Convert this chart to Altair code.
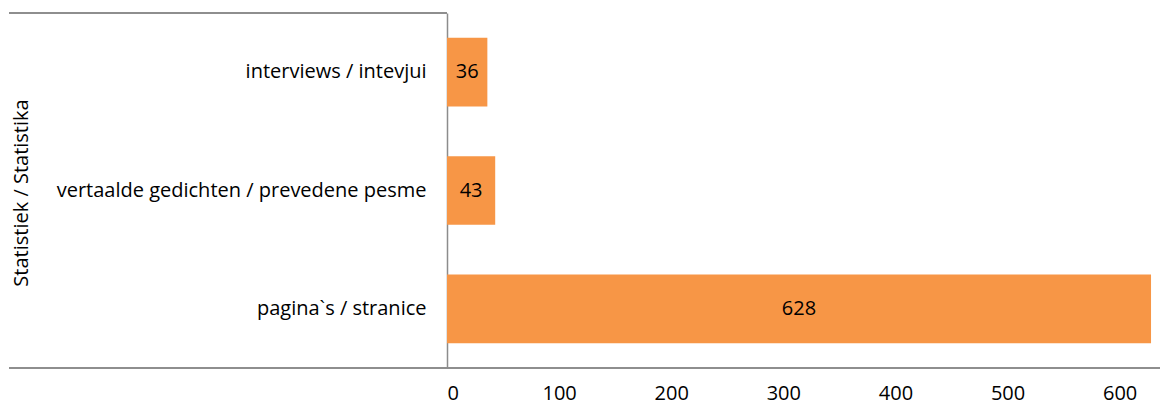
import altair as alt
import pandas as pd

categories = ["interviews / intevjui", "vertaalde gedichten / prevedene pesme", "pagina`s / stranice"]
values = [36, 43, 628]
x_ticks = [0, 100, 200, 300, 400, 500, 600]

df = pd.DataFrame({"cat": categories, "val": values})

W, H = 713, 355
FONT = "Open Sans"
FS = 20

x_scale = alt.Scale(domain=[0, 636], nice=False, zero=True)
y_scale = alt.Scale(domain=categories, paddingInner=0.42, paddingOuter=0.21)

bars = alt.Chart(df).mark_bar(color="#F79646").encode(
    x=alt.X("val:Q", scale=x_scale,
            axis=alt.Axis(values=x_ticks, grid=False, ticks=False, domain=False,
                          labelPadding=15, labelFontSize=FS, labelFont=FONT,
                          labelColor="#000000", title=None)),
    y=alt.Y("cat:N", scale=y_scale, sort=categories,
            axis=alt.Axis(ticks=False, domain=True, domainColor="#8c8c8c", domainWidth=1.5,
                          labelPadding=21, labelFontSize=FS, labelFont=FONT,
                          labelColor="#000000", labelLimit=420,
                          title="Statistiek / Statistika", titleFont=FONT,
                          titleFontSize=FS, titleFontWeight="normal", titleColor="#000000",
                          titleX=-426, titleY=H / 2 + 2, titleAngle=-90, titleAlign="center",
                          titleBaseline="middle")),
)

text = alt.Chart(df).mark_text(fontSize=FS, font=FONT, color="#000000").encode(
    x=alt.X("mid:Q", scale=x_scale),
    y=alt.Y("cat:N", scale=y_scale, sort=categories),
    text="val:Q",
).transform_calculate(mid="datum.val / 2")

bottom_line = alt.Chart(df).mark_rule(color="#8c8c8c", strokeWidth=1.5).encode(
    x=alt.value(-438), x2=alt.value(W), y=alt.value(H)
)
top_line = alt.Chart(df).mark_rule(color="#8c8c8c", strokeWidth=1.5).encode(
    x=alt.value(-438), x2=alt.value(0), y=alt.value(0)
)

chart = alt.layer(bars, text, bottom_line, top_line).properties(
    width=W, height=H,
    autosize=alt.AutoSizeParams(type="none"),
    padding={"left": 439, "top": 5, "right": 0, "bottom": 38},
).configure(background="white").configure_view(stroke=None, strokeWidth=0)

chart.save("out.html", embed_options={"renderer": "svg", "actions": False})
